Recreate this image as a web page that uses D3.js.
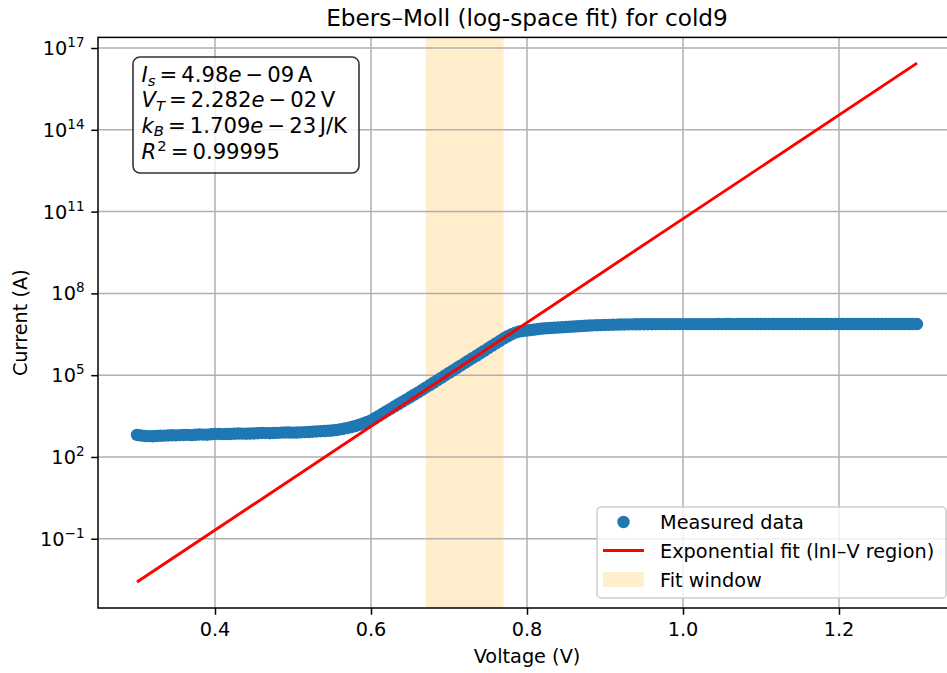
<!DOCTYPE html>
<html>
<head>
<meta charset="utf-8">
<script src="https://cdn.jsdelivr.net/npm/d3@7"></script>
<style>
body { margin: 0; background: #fff; }
text { font-family: "DejaVu Sans", sans-serif; fill: #000; }
</style>
</head>
<body>
<svg id="chart" width="947" height="673"></svg>
<script>
// measured I-V sweep
var voltage = [
  0.300,0.305,0.310,0.315,0.320,0.325,0.330,0.335,0.340,0.345,
  0.350,0.355,0.360,0.365,0.370,0.375,0.380,0.385,0.390,0.395,
  0.400,0.405,0.410,0.415,0.420,0.425,0.430,0.435,0.440,0.445,
  0.450,0.455,0.460,0.465,0.470,0.475,0.480,0.485,0.490,0.495,
  0.500,0.505,0.510,0.515,0.520,0.525,0.530,0.535,0.540,0.545,
  0.550,0.555,0.560,0.565,0.570,0.575,0.580,0.585,0.590,0.595,
  0.600,0.605,0.610,0.615,0.620,0.625,0.630,0.635,0.640,0.645,
  0.650,0.655,0.660,0.665,0.670,0.675,0.680,0.685,0.690,0.695,
  0.700,0.705,0.710,0.715,0.720,0.725,0.730,0.735,0.740,0.745,
  0.750,0.755,0.760,0.765,0.770,0.775,0.780,0.785,0.790,0.795,
  0.800,0.805,0.810,0.815,0.820,0.825,0.830,0.835,0.840,0.845,
  0.850,0.855,0.860,0.865,0.870,0.875,0.880,0.885,0.890,0.895,
  0.900,0.905,0.910,0.915,0.920,0.925,0.930,0.935,0.940,0.945,
  0.950,0.955,0.960,0.965,0.970,0.975,0.980,0.985,0.990,0.995,
  1.000,1.005,1.010,1.015,1.020,1.025,1.030,1.035,1.040,1.045,
  1.050,1.055,1.060,1.065,1.070,1.075,1.080,1.085,1.090,1.095,
  1.100,1.105,1.110,1.115,1.120,1.125,1.130,1.135,1.140,1.145,
  1.150,1.155,1.160,1.165,1.170,1.175,1.180,1.185,1.190,1.195,
  1.200,1.205,1.210,1.215,1.220,1.225,1.230,1.235,1.240,1.245,
  1.250,1.255,1.260,1.265,1.270,1.275,1.280,1.285,1.290,1.295,
  1.300]
var current = [
  640,610,589,580,575,590,600,605,614,625,
  620,630,640,645,632,650,668,660,655,680,
  697,700,690,695,700,712,726,720,715,722,
  730,745,759,750,745,755,765,780,791,785,
  780,790,800,812,824,842,861,879,897,916,
  935,975,1019,1085,1156,1255,1368,1520,1690,1920,
  2178,2630,3221,3917,4775,5808,7063,8590,1.045e4,1.271e4,
  1.549e4,1.884e4,2.291e4,2.818e4,3.467e4,4.266e4,5.248e4,6.471e4,7.962e4,9.795e4,
  1.205e5,1.483e5,1.824e5,2.244e5,2.767e5,3.404e5,4.188e5,5.152e5,6.339e5,7.798e5,
  9.616e5,1.183e6,1.455e6,1.791e6,2.203e6,2.679e6,3.112e6,3.648e6,3.990e6,4.180e6,
  4.335e6,4.530e6,4.721e6,4.930e6,5.140e6,5.250e6,5.358e6,5.470e6,5.585e6,5.700e6,
  5.821e6,5.950e6,6.081e6,6.210e6,6.339e6,6.470e6,6.607e6,6.700e6,6.800e6,6.880e6,
  6.950e6,7.030e6,7.100e6,7.150e6,7.200e6,7.250e6,7.300e6,7.330e6,7.350e6,7.380e6,
  7.400e6,7.410e6,7.420e6,7.430e6,7.440e6,7.450e6,7.450e6,7.460e6,7.460e6,7.470e6,
  7.470e6,7.480e6,7.470e6,7.480e6,7.480e6,7.490e6,7.480e6,7.490e6,7.490e6,7.500e6,
  7.490e6,7.500e6,7.500e6,7.490e6,7.500e6,7.500e6,7.510e6,7.500e6,7.500e6,7.510e6,
  7.500e6,7.510e6,7.500e6,7.510e6,7.510e6,7.500e6,7.510e6,7.510e6,7.520e6,7.510e6,
  7.510e6,7.520e6,7.510e6,7.520e6,7.510e6,7.520e6,7.520e6,7.510e6,7.520e6,7.520e6,
  7.520e6,7.510e6,7.520e6,7.520e6,7.530e6,7.520e6,7.520e6,7.530e6,7.520e6,7.520e6,
  7.530e6,7.520e6,7.530e6,7.530e6,7.520e6,7.530e6,7.530e6,7.520e6,7.530e6,7.530e6,
  7.530e6]

// exponential fit line end points
var fitV = [0.30, 1.30]
var fitI = [2.6e-3, 2.8e16]
var fitWindow = [0.67, 0.77]

var xTicks = [0.4, 0.6, 0.8, 1.0, 1.2]
var yTickExp = [-1, 2, 5, 8, 11, 14, 17]
var legendLabels = ["Measured data", "Exponential fit (lnI\u2013V region)", "Fit window"]

// text box lines: [text, italic, shift(0 normal, 1 sub, -1 sup), gap before]
var statLines = [
  [["I",1,0,0],["s",1,1,0],["=",0,0,4],["4.98",0,0,4],["e",1,0,0],["\u2212",0,0,4],["09",0,0,4],["A",0,0,3.5]],
  [["V",1,0,0],["T",1,1,0],["=",0,0,4],["2.282",0,0,4],["e",1,0,0],["\u2212",0,0,4],["02",0,0,4],["V",0,0,3.5]],
  [["k",1,0,0],["B",1,1,0],["=",0,0,4],["1.709",0,0,4],["e",1,0,0],["\u2212",0,0,4],["23",0,0,4],["J/K",0,0,3.5]],
  [["R",1,0,0],["2",0,-1,1],["=",0,0,4],["0.99995",0,0,4]]
]

var plot = {left: 98, right: 956, top: 37.4, bottom: 608}
var fs = 19.3

var svg = d3.select("#chart")

var x = d3.scaleLinear().domain([0.25, 1.35]).range([plot.left, plot.right])
var y = d3.scaleLog().domain([Math.pow(10, -3.54), Math.pow(10, 17.39)]).range([plot.bottom, plot.top])

svg.append("defs").append("clipPath").attr("id", "clip")
  .append("rect")
  .attr("x", plot.left).attr("y", plot.top)
  .attr("width", plot.right - plot.left).attr("height", plot.bottom - plot.top)

// fit window span
svg.append("rect")
  .attr("x", x(fitWindow[0])).attr("y", plot.top)
  .attr("width", x(fitWindow[1]) - x(fitWindow[0]))
  .attr("height", plot.bottom - plot.top)
  .attr("fill", "orange").attr("fill-opacity", 0.2)

// grid
var grid = svg.append("g")
grid.selectAll(".gx").data(xTicks).enter().append("line")
  .attr("x1", d => x(d)).attr("x2", d => x(d))
  .attr("y1", plot.top).attr("y2", plot.bottom)
  .attr("stroke", "#b0b0b0").attr("stroke-width", 1.5)
grid.selectAll(".gy").data(yTickExp).enter().append("line")
  .attr("x1", plot.left).attr("x2", plot.right)
  .attr("y1", d => y(Math.pow(10, d))).attr("y2", d => y(Math.pow(10, d)))
  .attr("stroke", "#b0b0b0").attr("stroke-width", 1.5)

var inner = svg.append("g").attr("clip-path", "url(#clip)")

// measured points
inner.append("g").selectAll("circle")
  .data(voltage.map((v, i) => [v, current[i]]))
  .enter().append("circle")
  .attr("cx", d => x(d[0])).attr("cy", d => y(d[1]))
  .attr("r", 6.2)
  .attr("fill", "#1f77b4")

// fit line
var line = d3.line().x(d => x(d[0])).y(d => y(d[1]))
inner.append("path")
  .datum(fitV.map((v, i) => [v, fitI[i]]))
  .attr("d", line)
  .attr("fill", "none").attr("stroke", "red").attr("stroke-width", 2.9)

// axes
var xAxis = d3.axisBottom(x).tickValues(xTicks).tickSize(6.75).tickFormat("")
var gx = svg.append("g").attr("transform", "translate(0," + plot.bottom + ")").call(xAxis)
gx.select(".domain").remove()
gx.selectAll(".tick line").attr("stroke", "#000").attr("stroke-width", 1.5)

var yAxis = d3.axisLeft(y).tickValues(yTickExp.map(e => Math.pow(10, e))).tickSize(6.75).tickFormat("")
var gy = svg.append("g").attr("transform", "translate(" + plot.left + ",0)").call(yAxis)
gy.select(".domain").remove()
gy.selectAll(".tick line").attr("stroke", "#000").attr("stroke-width", 1.5)

svg.selectAll(".xlab").data(xTicks).enter().append("text")
  .attr("x", d => x(d)).attr("y", 636)
  .attr("text-anchor", "middle").attr("font-size", fs)
  .text(d => d.toFixed(1))

yTickExp.forEach(function(e) {
  var t = svg.append("text")
    .attr("x", plot.left - 13.5).attr("y", y(Math.pow(10, e)) + 7)
    .attr("text-anchor", "end").attr("font-size", fs)
  t.append("tspan").text("10")
  t.append("tspan").attr("font-size", 13.5).attr("dy", -8)
    .text(e < 0 ? "\u2212" + Math.abs(e) : String(e))
})

// spines
svg.append("rect")
  .attr("x", plot.left).attr("y", plot.top)
  .attr("width", plot.right - plot.left).attr("height", plot.bottom - plot.top)
  .attr("fill", "none").attr("stroke", "#000").attr("stroke-width", 1.5)

// labels
svg.append("text").attr("x", (plot.left + plot.right) / 2).attr("y", 26)
  .attr("text-anchor", "middle").attr("font-size", 23.2)
  .text("Ebers\u2013Moll (log-space fit) for cold9")
svg.append("text").attr("x", (plot.left + plot.right) / 2).attr("y", 663)
  .attr("text-anchor", "middle").attr("font-size", fs)
  .text("Voltage (V)")
svg.append("text")
  .attr("transform", "translate(27," + ((plot.top + plot.bottom) / 2) + ") rotate(-90)")
  .attr("text-anchor", "middle").attr("font-size", fs)
  .text("Current (A)")

// stats box
svg.append("rect")
  .attr("x", 133).attr("y", 57).attr("width", 226).attr("height", 116)
  .attr("rx", 7).attr("ry", 7)
  .attr("fill", "#fff").attr("fill-opacity", 0.8)
  .attr("stroke", "#000").attr("stroke-opacity", 0.8).attr("stroke-width", 1.6)

var baselines = [82.3, 107.3, 132.7, 159.3]
statLines.forEach(function(segs, li) {
  var t = svg.append("text").attr("x", 141.5).attr("y", baselines[li]).attr("font-size", 21.2)
  var shift = 0
  segs.forEach(function(s) {
    var target = s[2] == 1 ? 3.5 : (s[2] == -1 ? -8 : 0)
    var sp = t.append("tspan").text(s[0])
      .attr("dx", s[3]).attr("dy", target - shift)
      .attr("font-style", s[1] ? "italic" : "normal")
    if (s[2] != 0) sp.attr("font-size", 14.8)
    shift = target
  })
})

// legend
var lg = svg.append("g")
lg.append("rect")
  .attr("x", 597).attr("y", 507).attr("width", 349).attr("height", 91)
  .attr("rx", 4).attr("ry", 4)
  .attr("fill", "#fff").attr("fill-opacity", 0.8)
  .attr("stroke", "#cccccc").attr("stroke-width", 1.5)
var rows = [522, 550.5, 579.5]
lg.append("circle").attr("cx", 623.5).attr("cy", rows[0]).attr("r", 6.2).attr("fill", "#1f77b4")
lg.append("line").attr("x1", 603).attr("x2", 644).attr("y1", rows[1]).attr("y2", rows[1])
  .attr("stroke", "red").attr("stroke-width", 2.9)
lg.append("rect").attr("x", 603).attr("y", 572).attr("width", 41).attr("height", 15)
  .attr("fill", "orange").attr("fill-opacity", 0.2)
lg.selectAll(".lt").data(legendLabels).enter().append("text")
  .attr("x", 660).attr("y", (d, i) => rows[i] + 7)
  .attr("font-size", fs)
  .text(d => d)
</script>
</body>
</html>
